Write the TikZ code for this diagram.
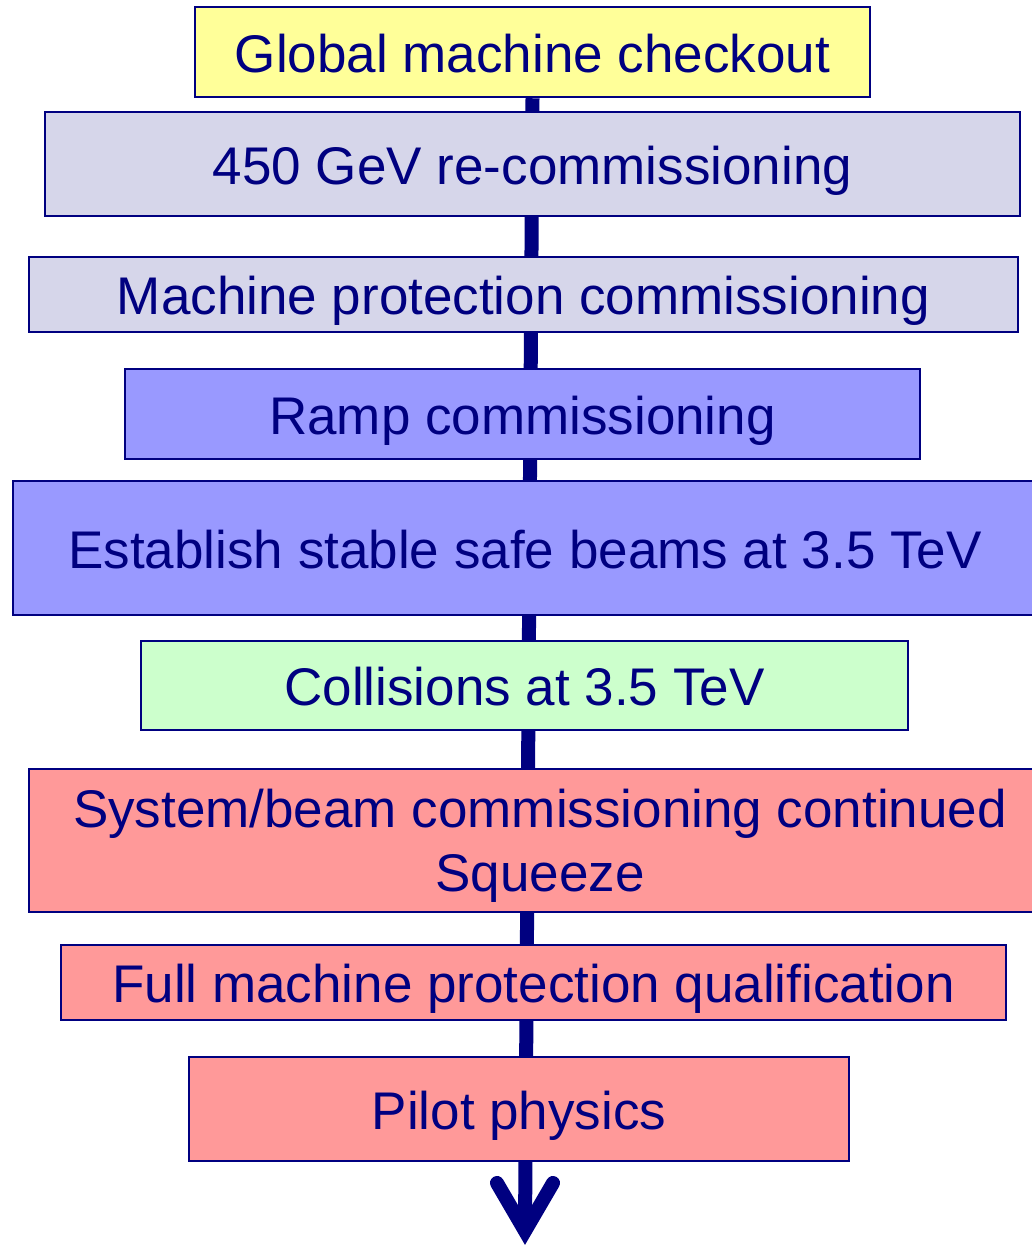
\documentclass[tikz,border=0pt]{standalone}
\usepackage{fontspec}
\setmainfont{Liberation Sans}
\usetikzlibrary{backgrounds}
\definecolor{navy}{HTML}{000080}
\definecolor{cyellow}{HTML}{FFFF99}
\definecolor{clav}{HTML}{D6D6EA}
\definecolor{cblue}{HTML}{9999FF}
\definecolor{cgreen}{HTML}{CCFFCC}
\definecolor{cred}{HTML}{FF9999}
\begin{document}
\begin{tikzpicture}[x=1pt,y=-1pt,
  stagebox/.style={draw=navy, line width=2.5pt, text=navy, inner sep=0pt, align=center,
    font=\fontsize{53}{64}\selectfont},
  oneline/.style={stagebox, text height=40pt, text depth=0pt},
  conn/.style={draw=navy, line width=14pt}]
\useasboundingbox (0,0) rectangle (1032,1247);
\node[oneline, fill=cyellow, minimum width=675pt, minimum height=90pt] (n1) at (532.5,52) {Global machine checkout};
\node[oneline, fill=clav, minimum width=975pt, minimum height=104pt] (n2) at (532.5,164) {450 GeV re-commissioning};
\node[oneline, fill=clav, minimum width=989pt, minimum height=75pt] (n3) at (523.5,294.5) {Machine protection commissioning};
\node[oneline, fill=cblue, minimum width=795pt, minimum height=90pt] (n4) at (522.5,414) {Ramp commissioning};
\node[oneline, fill=cblue, minimum width=1024pt, minimum height=134pt] (n5) at (525,548) {Establish stable safe beams at 3.5 TeV};
\node[oneline, fill=cgreen, minimum width=767pt, minimum height=89pt] (n6) at (524.5,685.5) {Collisions at 3.5 TeV};
\node[stagebox, text depth=0pt, fill=cred, minimum width=1022pt, minimum height=143pt] (n7) at (540,840.5) {System/beam commissioning continued\\Squeeze};
\node[oneline, fill=cred, minimum width=945pt, minimum height=75pt] (n8) at (533.5,982.5) {Full machine protection qualification};
\node[oneline, fill=cred, minimum width=660pt, minimum height=104pt] (n9) at (519,1109) {Pilot physics};
\coordinate (tip) at (525,1231);
\coordinate (armL) at (497,1183);
\coordinate (armR) at (553,1183);
\begin{scope}[on background layer]
\draw[conn] (n1.south) -- (tip);
\end{scope}
\draw[conn, line cap=round, line join=miter] (armL) -- (tip) -- (armR);
\end{tikzpicture}
\end{document}
